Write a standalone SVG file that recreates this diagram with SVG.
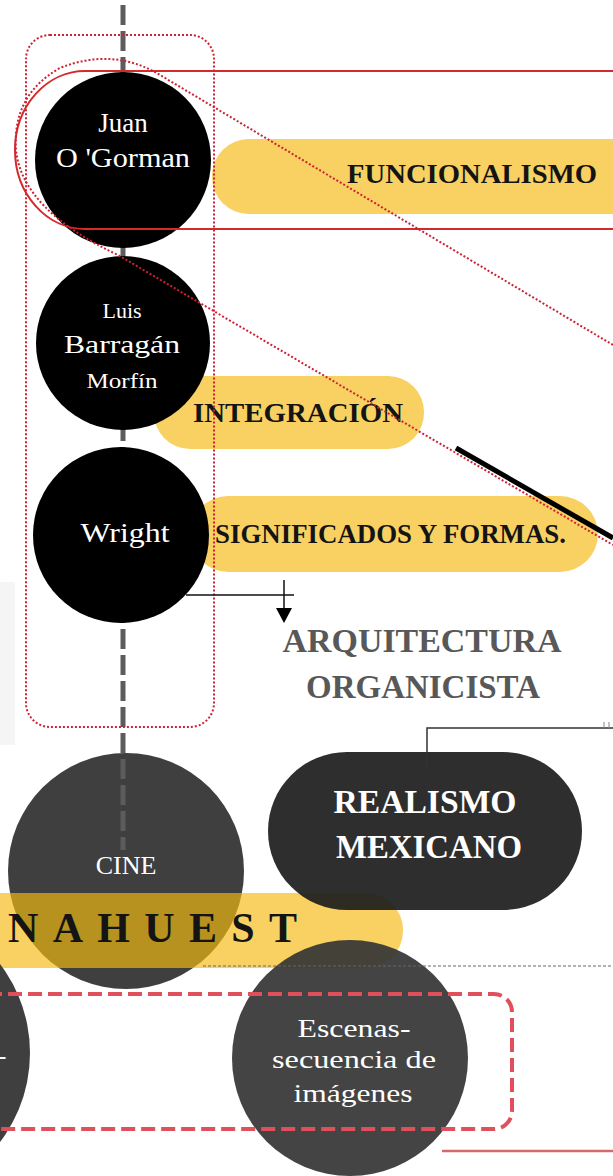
<svg xmlns="http://www.w3.org/2000/svg" width="613" height="1176" viewBox="0 0 613 1176">
<style>
.lbl{font-family:"Liberation Serif","Times New Roman",serif;font-weight:bold;fill:#141414;}
.wt{font-family:"Liberation Serif","Times New Roman",serif;fill:#ffffff;text-anchor:middle;}
.wtb{font-family:"Liberation Serif","Times New Roman",serif;fill:#ffffff;font-weight:bold;text-anchor:middle;}
.gr{font-family:"Liberation Serif","Times New Roman",serif;fill:#585858;font-weight:bold;text-anchor:middle;}
.yel{fill:#F8D162;}
.blk{fill:#000000;}
.dk{fill:#3f3f3f;}
.dot{fill:none;stroke:#cc2233;stroke-width:2;stroke-dasharray:2 2;}
.thin{fill:none;stroke:#111;stroke-width:1.5;}
</style>
<defs>
<clipPath id="cineClip"><circle cx="126" cy="871" r="118"/></clipPath>
<marker id="arr" markerWidth="16" markerHeight="16" refX="8" refY="1" markerUnits="userSpaceOnUse">
<path d="M0,0 L16,0 L8,15 z" fill="#000"/>
</marker>
</defs>

<rect x="0" y="582" width="15" height="163" fill="#f5f5f5"/>

<g id="cine">
<circle class="dk" cx="126" cy="871" r="118"/>
</g>

<g id="timeline">
<line x1="123" y1="5" x2="123" y2="850" stroke="#5c5c5c" stroke-width="5" stroke-dasharray="20 6"/>
</g>

<g id="funcionalismo">
<rect class="yel" x="212" y="139" width="440" height="75" rx="37"/>
<text class="lbl" x="347" y="183" font-size="28" textLength="250" lengthAdjust="spacingAndGlyphs">FUNCIONALISMO</text>
</g>
<g id="integracion">
<rect class="yel" x="154" y="376" width="270" height="73" rx="36"/>
<text class="lbl" x="193" y="422" font-size="27" textLength="210" lengthAdjust="spacingAndGlyphs">INTEGRACIÓN</text>
</g>
<g id="significados">
<rect class="yel" x="190" y="496" width="408" height="76" rx="38"/>
<text class="lbl" x="215" y="543" font-size="27" textLength="351" lengthAdjust="spacingAndGlyphs">SIGNIFICADOS Y FORMAS.</text>
</g>

<g id="juan">
<circle class="blk" cx="123" cy="160" r="88"/>
<text class="wt" x="123" y="132" font-size="27">Juan</text>
<text class="wt" x="123" y="167" font-size="27" textLength="134" lengthAdjust="spacingAndGlyphs">O 'Gorman</text>
</g>
<g id="luis">
<circle class="blk" cx="123" cy="343" r="87"/>
<text class="wt" x="122" y="318" font-size="22">Luis</text>
<text class="wt" x="122" y="353" font-size="26" textLength="116" lengthAdjust="spacingAndGlyphs">Barragán</text>
<text class="wt" x="122" y="388" font-size="22" textLength="71" lengthAdjust="spacingAndGlyphs">Morfín</text>
</g>
<g id="wright">
<circle class="blk" cx="121" cy="535" r="88"/>
<text class="wt" x="125" y="542" font-size="27" textLength="89" lengthAdjust="spacingAndGlyphs">Wright</text>
</g>

<g id="organicista">
<text class="gr" x="422" y="652" font-size="34" textLength="279" lengthAdjust="spacingAndGlyphs">ARQUITECTURA</text>
<text class="gr" x="423" y="698" font-size="34" textLength="234" lengthAdjust="spacingAndGlyphs">ORGANICISTA</text>
</g>

<g id="nahuest">
<rect class="yel" x="-40" y="893" width="443" height="75" rx="37"/>
<rect x="-40" y="893" width="443" height="75" fill="#B8921F" clip-path="url(#cineClip)"/>
<text class="lbl" x="8" y="942" font-size="42" fill="#111" textLength="289" lengthAdjust="spacing">NAHUEST</text>
</g>
<g id="cine-label">
<text class="wt" x="126" y="874" font-size="26">CINE</text>
</g>

<g id="realismo">
<rect x="268" y="752" width="314" height="158" rx="79" fill="#1e1e1e" opacity="0.93"/>
<text class="wtb" x="425" y="813" font-size="33" textLength="183" lengthAdjust="spacingAndGlyphs">REALISMO</text>
<text class="wtb" x="429" y="858" font-size="33" textLength="186" lengthAdjust="spacingAndGlyphs">MEXICANO</text>
</g>

<g id="left-node">
<circle cx="-117" cy="1053" r="147" fill="#3f3f3f"/>
<text class="wt" x="2" y="1064" font-size="26">-</text>
</g>

<g id="escenas">
<circle cx="350" cy="1058" r="118" fill="#363636" opacity="0.93"/>
<text class="wt" x="354" y="1037" font-size="26" textLength="113" lengthAdjust="spacingAndGlyphs">Escenas-</text>
<text class="wt" x="354" y="1068" font-size="26" textLength="164" lengthAdjust="spacingAndGlyphs">secuencia de</text>
<text class="wt" x="353" y="1102" font-size="26" textLength="119" lengthAdjust="spacingAndGlyphs">imágenes</text>
</g>

<g id="connectors">
<line x1="203" y1="966" x2="613" y2="966" stroke="#666" stroke-width="1" stroke-dasharray="3 2"/>
<rect x="-30" y="994" width="542" height="135" rx="18" fill="none" stroke="#e0505c" stroke-width="4" stroke-dasharray="14 6"/>
<line x1="442" y1="1151" x2="613" y2="1151" stroke="#d46a6a" stroke-width="2.5"/>
<rect class="dot" x="26" y="35" width="188" height="692" rx="24"/>
<path d="M613,71 H85 A70,79 0 0 0 85,229 H613" fill="none" stroke="#d42a2a" stroke-width="2"/>
<path class="dot" d="M613,345 L155,72 Q110,48 60,68 Q12,95 16,150 Q22,210 118,255 L613,545"/>
<line x1="456" y1="448" x2="613" y2="538" stroke="#000" stroke-width="5"/>
<path class="thin" d="M186,595 H294"/>
<path class="thin" d="M284,580 V609" marker-end="url(#arr)"/>
<path d="M427,767 V728 H613" fill="none" stroke="#333" stroke-width="1.5"/>
<path d="M604,722 V728 M609,722 V728" fill="none" stroke="#888" stroke-width="1"/>
</g>
</svg>
